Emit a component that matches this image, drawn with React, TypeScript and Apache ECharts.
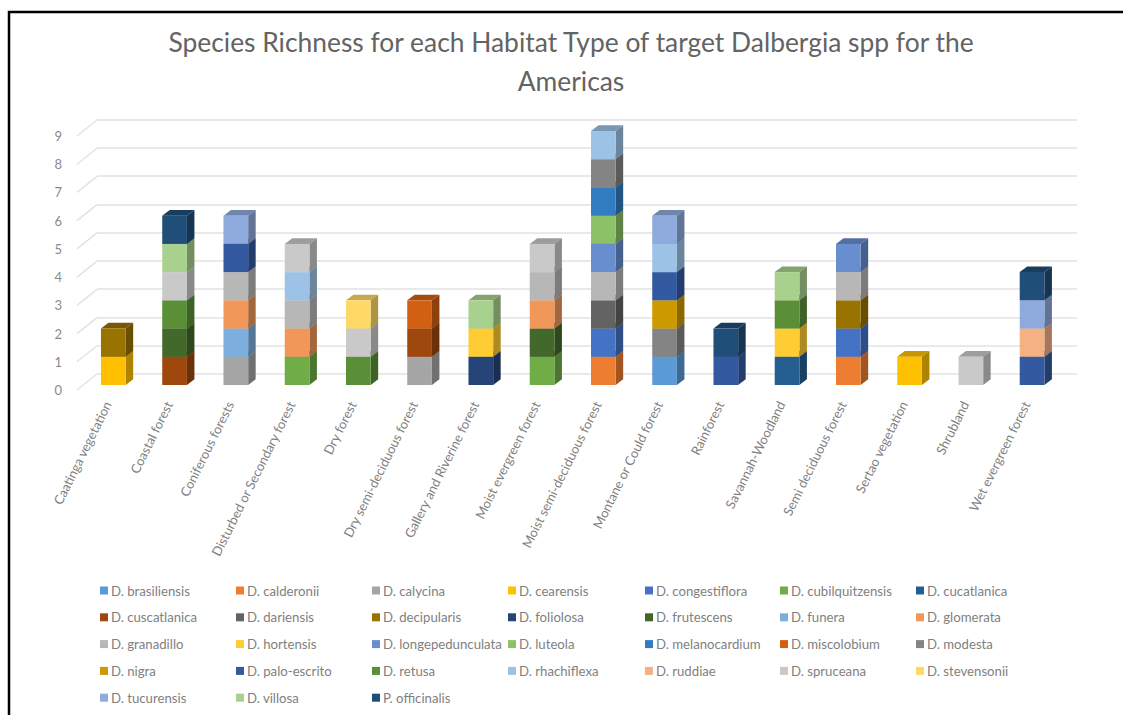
import React, { useEffect, useRef } from "react";
import * as echarts from "echarts";

const titleText = "Species Richness for each Habitat Type of target Dalbergia spp for the\nAmericas";

const habitats = [
  "Caatinga vegetation", "Coastal forest", "Coniferous forests", "Disturbed or Secondary forest",
  "Dry forest", "Dry semi-deciduous forest", "Gallery and Riverine forest", "Moist evergreen forest",
  "Moist semi-deciduous forest", "Montane or Could forest", "Rainforest", "Savannah-Woodland",
  "Semi deciduous forest", "Sertao vegetation", "Shrubland", "Wet evergreen forest",
];

const yTicks = [0, 1, 2, 3, 4, 5, 6, 7, 8, 9];

// one unit per habitat, in the order of `habitats`
const brasiliensis     = [0,0,0,0,0,0,0,0,0,1,0,0,0,0,0,0];
const calderonii       = [0,0,0,0,0,0,0,0,1,0,0,0,1,0,0,0];
const calycina         = [0,0,1,0,0,1,0,0,0,0,0,0,0,0,0,0];
const cearensis        = [1,0,0,0,0,0,0,0,0,0,0,0,0,1,0,0];
const congestiflora    = [0,0,0,0,0,0,0,0,1,0,0,0,1,0,0,0];
const cubilquitzensis  = [0,0,0,1,0,0,0,1,0,0,0,0,0,0,0,0];
const cucatlanica      = [0,0,0,0,0,0,0,0,0,0,0,1,0,0,0,0];
const cuscatlanica     = [0,1,0,0,0,1,0,0,0,0,0,0,0,0,0,0];
const dariensis        = [0,0,0,0,0,0,0,0,1,0,0,0,0,0,0,0];
const decipularis      = [1,0,0,0,0,0,0,0,0,0,0,0,1,0,0,0];
const foliolosa        = [0,0,0,0,0,0,1,0,0,0,0,0,0,0,0,0];
const frutescens       = [0,1,0,0,0,0,0,1,0,0,0,0,0,0,0,0];
const funera           = [0,0,1,0,0,0,0,0,0,0,0,0,0,0,0,0];
const glomerata        = [0,0,1,1,0,0,0,1,0,0,0,0,0,0,0,0];
const granadillo       = [0,0,1,1,0,0,0,1,1,0,0,0,1,0,0,0];
const hortensis        = [0,0,0,0,0,0,1,0,0,0,0,1,0,0,0,0];
const longepedunculata = [0,0,0,0,0,0,0,0,1,0,0,0,1,0,0,0];
const luteola          = [0,0,0,0,0,0,0,0,1,0,0,0,0,0,0,0];
const melanocardium    = [0,0,0,0,0,0,0,0,1,0,0,0,0,0,0,0];
const miscolobium      = [0,0,0,0,0,1,0,0,0,0,0,0,0,0,0,0];
const modesta          = [0,0,0,0,0,0,0,0,1,1,0,0,0,0,0,0];
const nigra            = [0,0,0,0,0,0,0,0,0,1,0,0,0,0,0,0];
const paloEscrito      = [0,0,1,0,0,0,0,0,0,1,1,0,0,0,0,1];
const retusa           = [0,1,0,0,1,0,0,0,0,0,0,1,0,0,0,0];
const rhachiflexa      = [0,0,0,1,0,0,0,0,1,1,0,0,0,0,0,0];
const ruddiae          = [0,0,0,0,0,0,0,0,0,0,0,0,0,0,0,1];
const spruceana        = [0,1,0,1,1,0,0,1,0,0,0,0,0,0,1,0];
const stevensonii      = [0,0,0,0,1,0,0,0,0,0,0,0,0,0,0,0];
const tucurensis       = [0,0,1,0,0,0,0,0,0,1,0,0,0,0,0,1];
const villosa          = [0,1,0,0,0,0,1,0,0,0,0,1,0,0,0,0];
const officinalis      = [0,1,0,0,0,0,0,0,0,0,1,0,0,0,0,1];

const speciesNames = [
  "D. brasiliensis", "D. calderonii", "D. calycina", "D. cearensis", "D. congestiflora", "D. cubilquitzensis", "D. cucatlanica",
  "D. cuscatlanica", "D. dariensis", "D. decipularis", "D. foliolosa", "D. frutescens", "D. funera", "D. glomerata",
  "D. granadillo", "D. hortensis", "D. longepedunculata", "D. luteola", "D. melanocardium", "D. miscolobium", "D. modesta",
  "D. nigra", "D. palo-escrito", "D. retusa", "D. rhachiflexa", "D. ruddiae", "D. spruceana", "D. stevensonii",
  "D. tucurensis", "D. villosa", "P. officinalis",
];
const speciesValues = [
  brasiliensis, calderonii, calycina, cearensis, congestiflora, cubilquitzensis, cucatlanica,
  cuscatlanica, dariensis, decipularis, foliolosa, frutescens, funera, glomerata,
  granadillo, hortensis, longepedunculata, luteola, melanocardium, miscolobium, modesta,
  nigra, paloEscrito, retusa, rhachiflexa, ruddiae, spruceana, stevensonii,
  tucurensis, villosa, officinalis,
];
const speciesColors = [
  "#5b9bd5", "#ed7d31", "#a5a5a5", "#ffc000", "#4472c4", "#70ad47", "#255e91",
  "#9e480e", "#636363", "#997300", "#264478", "#43682b", "#7cafdd", "#f1975a",
  "#b7b7b7", "#ffcd33", "#698ed0", "#8cc168", "#327dc2", "#d26012", "#848484",
  "#cc9a00", "#335aa1", "#5a8f38", "#9cc3e5", "#f4b183", "#c9c9c9", "#ffd966",
  "#8faadc", "#a9d18e", "#1f4e79",
];

const FONT = "Lato";
const BAR_W = 24.7;
const DEPTH_X = 7.5;
const DEPTH_Y = 5.7;
const FLOOR_X = 5.7;
const FLOOR_Y = 5;
const LEGEND_X = [95, 231, 367, 503, 640, 775, 911];

function shade(hex: string, f: number) {
  const n = parseInt(hex.slice(1), 16);
  const c = [(n >> 16) & 255, (n >> 8) & 255, n & 255].map((v) => Math.round(v * f));
  return `rgb(${c[0]},${c[1]},${c[2]})`;
}

function barItem(color: string) {
  return (_p: any, api: any) => {
    const lo = api.coord([api.value(0), api.value(1)]);
    const hi = api.coord([api.value(0), api.value(2)]);
    const x0 = lo[0] + FLOOR_X - BAR_W / 2;
    const x1 = x0 + BAR_W;
    const yb = lo[1] - FLOOR_Y;
    const yt = hi[1] - FLOOR_Y;
    return {
      type: "group",
      children: [
        { type: "polygon", shape: { points: [[x0, yt], [x1, yt], [x1 + DEPTH_X, yt - DEPTH_Y], [x0 + DEPTH_X, yt - DEPTH_Y]] }, style: { fill: shade(color, 0.78) } },
        { type: "polygon", shape: { points: [[x1, yb], [x1 + DEPTH_X, yb - DEPTH_Y], [x1 + DEPTH_X, yt - DEPTH_Y], [x1, yt]] }, style: { fill: shade(color, 0.68) } },
        { type: "rect", shape: { x: x0, y: yt, width: BAR_W, height: yb - yt }, style: { fill: color } },
      ],
    };
  };
}

export default function App() {
  const ref = useRef<HTMLDivElement>(null);
  useEffect(() => {
    document.body.style.margin = "0";
    const chart = echarts.init(ref.current!, null, { renderer: "svg" });
    const running = habitats.map(() => 0);
    const barSeries = speciesNames.map((name, s) => {
      const data: number[][] = [];
      speciesValues[s].forEach((v, c) => {
        if (v > 0) {
          data.push([c, running[c], running[c] + v]);
          running[c] += v;
        }
      });
      return {
        type: "custom",
        name,
        coordinateSystem: "cartesian2d",
        xAxisIndex: 0,
        yAxisIndex: 0,
        itemStyle: { color: speciesColors[s] },
        encode: { x: 0, y: [1, 2] },
        data,
        z: 5,
        renderItem: barItem(speciesColors[s]),
      };
    });
    const wallTicks = {
      type: "custom",
      name: "wall",
      coordinateSystem: "cartesian2d",
      xAxisIndex: 0,
      yAxisIndex: 0,
      silent: true,
      z: 2,
      encode: { x: 0, y: 1 },
      data: yTicks.map((v) => [0, v]),
      renderItem: (p: any, api: any) => {
        const pt = api.coord([0, api.value(1)]);
        const x = p.coordSys.x;
        return {
          type: "line",
          shape: { x1: x, y1: pt[1], x2: x + 20, y2: pt[1] - 16 },
          style: { stroke: "#e2e2e2", lineWidth: 1.5 },
        };
      },
    };
    const legends = LEGEND_X.map((left, col) => ({
      orient: "vertical" as const,
      left,
      top: 579,
      itemWidth: 8,
      itemHeight: 8,
      itemGap: 13.8,
      icon: "rect",
      selectedMode: false,
      textStyle: { fontFamily: FONT, fontSize: 13.2, color: "#7f7f7f", lineHeight: 12, padding: [0, 0, 0, -2] },
      data: speciesNames.filter((_, i) => i % 7 === col),
    }));
    chart.setOption({
      animation: false,
      backgroundColor: "#ffffff",
      title: {
        text: titleText,
        left: 566,
        top: 17,
        textAlign: "center",
        textStyle: { fontFamily: FONT, fontSize: 26.4, fontWeight: "normal", color: "#636363", lineHeight: 39 },
      },
      grid: [
        { left: 77, top: 136, width: 980, height: 254 },
        { left: 97, top: 119.5, width: 980, height: 254.5 },
      ],
      xAxis: [
        {
          type: "category",
          gridIndex: 0,
          data: habitats,
          axisLine: { show: false },
          axisTick: { show: false },
          axisLabel: { rotate: 63.5, interval: 0, margin: 12, fontFamily: FONT, fontSize: 13, color: "#7f7f7f" },
        },
        { type: "category", gridIndex: 1, data: habitats, show: false },
      ],
      yAxis: [
        {
          type: "value",
          gridIndex: 0,
          min: 0,
          max: 9,
          interval: 1,
          axisLine: { show: false },
          axisTick: { show: false },
          splitLine: { show: false },
          axisLabel: { margin: 15, fontFamily: FONT, fontSize: 13, color: "#8a8a8a" },
        },
        {
          type: "value",
          gridIndex: 1,
          min: 0,
          max: 9,
          interval: 1,
          axisLine: { show: false },
          axisTick: { show: false },
          axisLabel: { show: false },
          splitLine: { show: true, lineStyle: { color: "#e2e2e2", width: 1.5 } },
        },
      ],
      legend: legends,
      graphic: [
        {
          type: "polyline",
          shape: { points: [[9, 715], [9, 12], [1123, 12]] },
          style: { stroke: "#000000", lineWidth: 2.5, fill: "none" },
          z: 10,
        },
      ],
      series: [wallTicks, ...barSeries],
    });
    return () => chart.dispose();
  }, []);
  return <div ref={ref} style={{ position: "fixed", left: 0, top: 0, width: 1123, height: 715 }} />;
}
